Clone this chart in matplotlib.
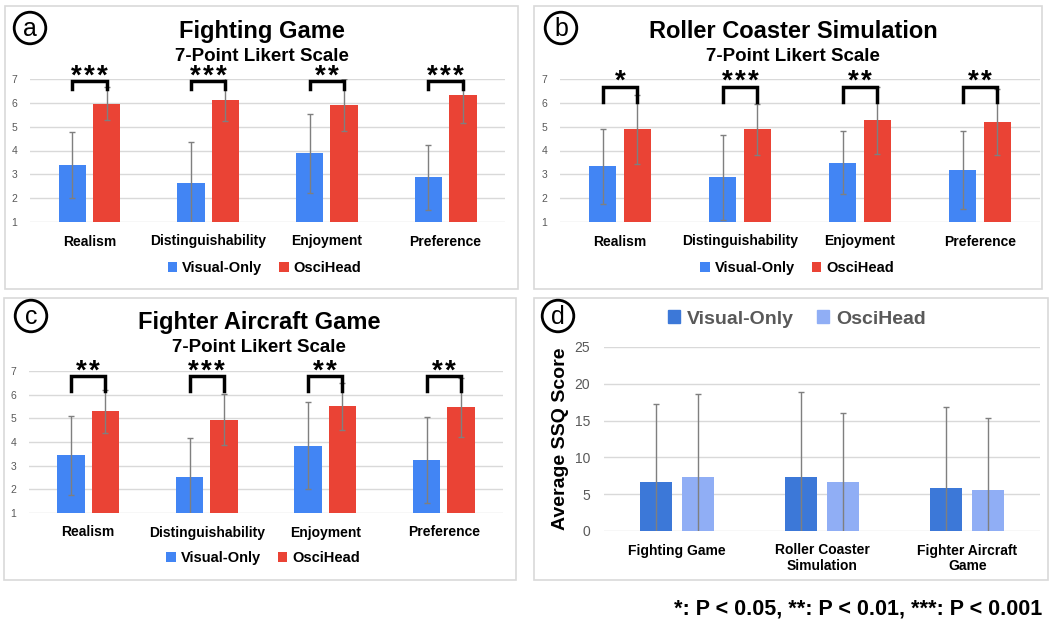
import matplotlib.pyplot as plt
from matplotlib.patches import Rectangle, Circle
import numpy as np

plt.rcParams['font.family'] = ['Liberation Sans', 'DejaVu Sans']

W, H = 1053, 622

# ---- data ----
categories = ["Realism", "Distinguishability", "Enjoyment", "Preference"]

fighting_visual = [3.39, 2.63, 3.88, 2.88]
fighting_visual_sd = [1.39, 1.74, 1.67, 1.37]
fighting_osci = [5.96, 6.13, 5.90, 6.31]
fighting_osci_sd = [0.69, 0.90, 1.08, 1.17]
fighting_stars = ["***", "***", "**", "***"]

roller_visual = [3.33, 2.87, 3.49, 3.18]
roller_visual_sd = [1.57, 1.77, 1.32, 1.64]
roller_osci = [4.89, 4.89, 5.26, 5.19]
roller_osci_sd = [1.44, 1.08, 1.39, 1.37]
roller_stars = ["*", "***", "**", "**"]

aircraft_visual = [3.44, 2.54, 3.85, 3.24]
aircraft_visual_sd = [1.67, 1.64, 1.84, 1.80]
aircraft_osci = [5.30, 4.95, 5.51, 5.46]
aircraft_osci_sd = [0.90, 1.07, 1.00, 1.24]
aircraft_stars = ["**", "***", "**", "**"]

ssq_games = ["Fighting Game", "Roller Coaster\nSimulation", "Fighter Aircraft\nGame"]
ssq_visual = [6.72, 7.40, 5.90]
ssq_visual_sd = [10.57, 11.52, 10.89]
ssq_osci = [7.40, 6.72, 5.58]
ssq_osci_sd = [11.20, 9.30, 9.76]

BLUE = "#4285F4"
RED = "#EA4335"
DBLUE = "#3C78D8"
LBLUE = "#90AEF5"
GRID = "#D9D9D9"
ERR = "#7F7F7F"
PT = 0.72  # points per pixel at 100 dpi


def px_rect(x0, y0, x1, y1):
    return [x0 / W, 1 - y1 / H, (x1 - x0) / W, (y1 - y0) / H]


fig = plt.figure(figsize=(W / 100, H / 100), dpi=100)


def panel_frame(x0, y0, x1, y1):
    fig.patches.append(Rectangle((x0 / W, 1 - y1 / H), (x1 - x0) / W, (y1 - y0) / H,
                                 transform=fig.transFigure, fill=False,
                                 edgecolor=GRID, linewidth=1.2))


def panel_label(letter, cx, cy):
    c = Circle((cx / 100, (H - cy) / 100), 0.158, transform=fig.dpi_scale_trans,
               fill=False, edgecolor="black", linewidth=2.0)
    fig.patches.append(c)
    fig.text(cx / W, 1 - (cy + 1) / H, letter, ha="center", va="center", fontsize=18)


def likert_panel(box, axpos, title_xy, title, visual, visual_sd, osci, osci_sd,
                 stars, br_top, br_bot):
    panel_frame(*box)
    ax = fig.add_axes(px_rect(*axpos))
    x = np.arange(len(categories))
    w = 0.23
    off = 0.145
    ax.bar(x - off, visual, w, color=BLUE, label="Visual-Only", zorder=2)
    ax.bar(x + off, osci, w, color=RED, label="OsciHead", zorder=2)
    ax.errorbar(x - off, visual, yerr=visual_sd, fmt="none", ecolor=ERR,
                elinewidth=1, capsize=2, capthick=1, zorder=3)
    ax.errorbar(x + off, osci, yerr=osci_sd, fmt="none", ecolor=ERR,
                elinewidth=1, capsize=2, capthick=1, zorder=3)
    ax.set_ylim(1, 7)
    ax.set_xlim(-0.5, len(categories) - 0.5)
    ax.set_yticks(range(1, 8))
    ax.yaxis.grid(True, color=GRID, linewidth=1)
    ax.set_axisbelow(True)
    for s in ax.spines.values():
        s.set_visible(False)
    ax.tick_params(axis="y", length=0, pad=9, labelsize=7.5, labelcolor="#595959")
    ax.tick_params(axis="x", length=0, pad=9)
    ax.set_xticks(x)
    ax.set_xticklabels(categories, fontsize=10, fontweight="bold")
    for i, s in enumerate(stars):
        xl, xr = i - off, i + off
        ax.plot([xl, xl, xr, xr], [br_bot, br_top, br_top, br_bot], color="black",
                linewidth=2.5, clip_on=False, solid_joinstyle="miter", zorder=4)
        n = len(s)
        for k in range(n):
            dx = (k - (n - 1) / 2) * 13
            ax.annotate("*", (i, br_top), xytext=(dx * PT, -2 * PT),
                        textcoords="offset points", ha="center", va="baseline",
                        fontsize=20, fontweight="bold", annotation_clip=False)
    ax.legend(loc="center", bbox_to_anchor=(0.494, -0.32), ncol=2, frameon=False,
              handlelength=0.65, handleheight=0.65, handletextpad=0.35,
              columnspacing=1.15, prop={"weight": "bold", "size": 10.5})
    tx, ty = title_xy
    fig.text(tx / W, 1 - ty / H, title, ha="center", va="baseline", fontsize=17,
             fontweight="bold")
    fig.text(tx / W, 1 - (ty + 23) / H, "7-Point Likert Scale", ha="center",
             va="baseline", fontsize=13.5, fontweight="bold")
    return ax


likert_panel((5, 6, 518, 289), (30, 79, 505, 222), (262, 38), "Fighting Game",
             fighting_visual, fighting_visual_sd, fighting_osci, fighting_osci_sd,
             fighting_stars, 6.9, 6.6)
likert_panel((534, 6, 1042, 289), (560, 79, 1040, 222), (793, 38),
             "Roller Coaster Simulation",
             roller_visual, roller_visual_sd, roller_osci, roller_osci_sd,
             roller_stars, 6.66, 6.05)
likert_panel((4, 298, 516, 580), (29, 371, 503, 513), (259, 329),
             "Fighter Aircraft Game",
             aircraft_visual, aircraft_visual_sd, aircraft_osci, aircraft_osci_sd,
             aircraft_stars, 6.78, 6.16)

# ---- panel d: SSQ ----
panel_frame(534, 298, 1048, 580)
axd = fig.add_axes(px_rect(604, 347, 1040, 531))
xd = np.arange(len(ssq_games))
wd = 0.22
offd = 0.145
axd.bar(xd - offd, ssq_visual, wd, color=DBLUE, zorder=2)
axd.bar(xd + offd, ssq_osci, wd, color=LBLUE, zorder=2)
axd.errorbar(xd - offd, ssq_visual, yerr=ssq_visual_sd, fmt="none", ecolor=ERR,
             elinewidth=1, capsize=2, capthick=1, zorder=3)
axd.errorbar(xd + offd, ssq_osci, yerr=ssq_osci_sd, fmt="none", ecolor=ERR,
             elinewidth=1, capsize=2, capthick=1, zorder=3)
axd.set_ylim(0, 25)
axd.set_xlim(-0.5, len(ssq_games) - 0.5)
axd.set_yticks(range(0, 26, 5))
axd.yaxis.grid(True, color=GRID, linewidth=1)
axd.set_axisbelow(True)
for s in axd.spines.values():
    s.set_visible(False)
axd.tick_params(axis="y", length=0, pad=10, labelsize=10, labelcolor="#595959")
axd.tick_params(axis="x", length=0, pad=9)
axd.set_xticks(xd)
axd.set_xticklabels(ssq_games, fontsize=10, fontweight="bold", linespacing=1.1)
axd.set_ylabel("Average SSQ Score", fontsize=14, fontweight="bold", labelpad=4)
handles = [Rectangle((0, 0), 1, 1, color=DBLUE), Rectangle((0, 0), 1, 1, color=LBLUE)]
fig.legend(handles, ["Visual-Only", "OsciHead"], loc="center",
           bbox_to_anchor=(797 / W, 1 - 319 / H), ncol=2, frameon=False,
           handlelength=0.6, handleheight=0.6, handletextpad=0.35,
           columnspacing=1.2, labelcolor="#595959",
           prop={"weight": "bold", "size": 14})

panel_label("a", 30, 28)
panel_label("b", 561, 28)
panel_label("c", 31, 316)
panel_label("d", 558, 316)

fig.text(1042 / W, 1 - 615 / H, "*: P < 0.05, **: P < 0.01, ***: P < 0.001",
         ha="right", va="baseline", fontsize=15.5, fontweight="bold")

fig.savefig("out.png", dpi=100)
